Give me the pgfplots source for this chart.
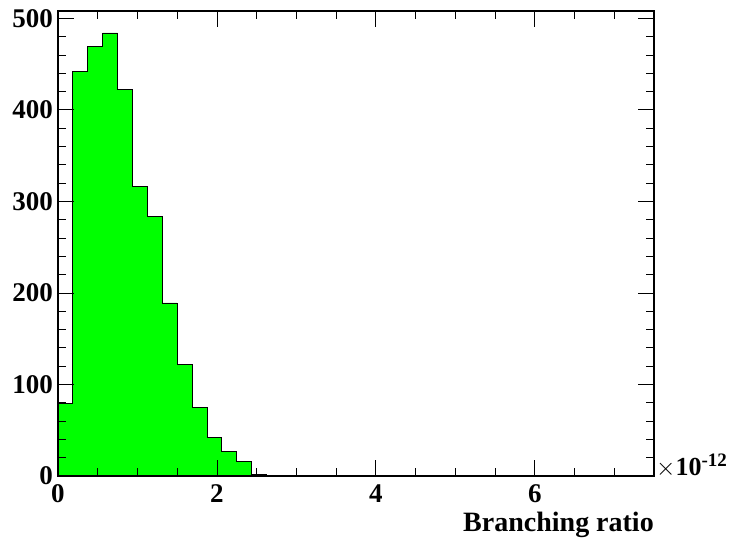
\documentclass[border=0pt]{standalone}
\usepackage{pgfplots}
\pgfplotsset{compat=1.18}
\usepackage{fontspec}
\setmainfont{Liberation Serif}
\definecolor{rootgreen}{RGB}{0,255,0}
\begin{document}
\begin{tikzpicture}
\path[use as bounding box] (-58pt,-62pt) rectangle (671pt,476pt);
\begin{axis}[
  at={(0pt,0pt)}, anchor=south west,
  scale only axis, width=596pt, height=465pt,
  xmin=0, xmax=7.5, ymin=0, ymax=508,
  xtick={0,2,4,6}, minor xtick={0.5,1,1.5,2.5,3,3.5,4.5,5,5.5,6.5,7,7.5},
  ytick={0,100,200,300,400,500},
  minor ytick={20,40,60,80,120,140,160,180,220,240,260,280,320,340,360,380,420,440,460,480,500},
  major tick length=16pt, minor tick length=8pt,
  tick align=inside,
  axis line style={line width=1.2pt},
  every tick/.style={black, line width=0.8pt},
  /pgf/number format/assume math mode=true,
  ticklabel style={font=\fontsize{27}{30}\selectfont\bfseries},
  xticklabel style={yshift=-5.5pt},
  yticklabel style={xshift=-1.5pt},
  axis on top,
  clip=false,
]
\addplot[fill=rootgreen, draw=black, line width=0.8pt, const plot] coordinates {
(0,79) (0.1875,442) (0.375,469) (0.5625,484) (0.75,422) (0.9375,316)
(1.125,284) (1.3125,189) (1.5,122) (1.6875,75) (1.875,42) (2.0625,27)
(2.25,16) (2.4375,2) (2.625,0) (7.5,0)
} \closedcycle;
\node[anchor=base west, font=\fontsize{26}{28}\selectfont\bfseries, inner sep=0pt]
  at (axis cs:7.5,0) [xshift=2pt] {$\times$10\textsuperscript{\fontsize{19}{20}\selectfont -12}};
\node[anchor=base east, font=\fontsize{28}{30}\selectfont\bfseries, inner sep=0pt]
  at (axis cs:7.5,0) [yshift=-55.5pt] {Branching ratio};
\end{axis}
\end{tikzpicture}
\end{document}
